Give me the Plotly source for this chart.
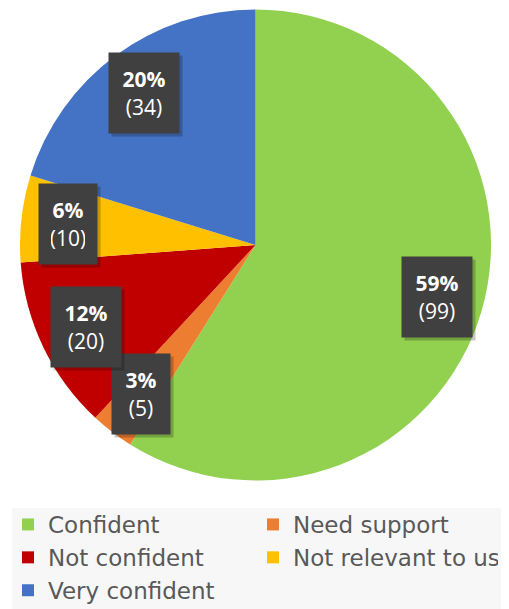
import math
import plotly.graph_objects as go

categories = ["Confident", "Need support", "Not confident", "Not relevant to us", "Very confident"]
counts = [99, 5, 20, 10, 34]
percent_labels = ["59%", "3%", "12%", "6%", "20%"]
colors = ["#92D050", "#ED7D31", "#C00000", "#FFC000", "#4472C4"]

OFF = 8  # page body margin
W, H = 509 - OFF, 609 - OFF


def fx(px):  # window px -> paper x
    return (px - OFF) / W


def fy(py):  # window px -> paper y
    return 1 - (py - OFF) / H


dom_x = [fx(20), fx(491)]
dom_y = [fy(481), fy(9)]

fig = go.Figure(go.Pie(
    labels=categories,
    values=counts,
    sort=False,
    direction="clockwise",
    rotation=0,
    marker=dict(colors=colors, line=dict(width=0)),
    textinfo="none",
    hoverinfo="label+value+percent",
    domain=dict(x=dom_x, y=dom_y),
))

# label boxes placed along each slice's mid-angle
cx_px = (20 + 491) / 2
cy_px = (9 + 481) / 2
radius_px = (491 - 20) / 2
total = sum(counts)
cum = 0
annotations = []
for lab, val, pct in zip(categories, counts, percent_labels):
    mid = (cum + val / 2) / total * 2 * math.pi
    cum += val
    r = 0.8 * radius_px
    px = cx_px + r * math.sin(mid)
    py = cy_px - r * math.cos(mid)
    bw = 46 if len(pct) == 3 else 34
    bh = 56
    annotations.append(dict(
        x=fx(px + 3), y=fy(py + 3), xref="paper", yref="paper",
        xanchor="center", yanchor="middle",
        text="&nbsp;", showarrow=False, width=bw, height=bh,
        font=dict(family="Open Sans", size=21, color="rgba(0,0,0,0)"),
        bgcolor="rgba(0,0,0,0.22)", borderpad=12,
    ))
    annotations.append(dict(
        x=fx(px), y=fy(py), xref="paper", yref="paper",
        xanchor="center", yanchor="middle",
        text=f"<b>{pct}</b><br>({val})", showarrow=False, width=bw, height=bh,
        font=dict(family="Open Sans", size=21, color="white"),
        bgcolor="#404040", borderpad=12, align="center", valign="middle",
    ))

fig.update_layout(
    width=W, height=H,
    margin=dict(l=0, r=0, t=0, b=0, autoexpand=False),
    paper_bgcolor="white",
    plot_bgcolor="white",
    annotations=annotations,
    shapes=[dict(type="rect", xref="paper", yref="paper",
                 x0=fx(12), x1=1, y0=0, y1=fy(508),
                 fillcolor="#F7F7F7", line=dict(width=0), layer="below")],
    showlegend=True,
    legend=dict(
        orientation="h",
        x=0, xanchor="left",
        y=fy(503), yanchor="top",
        font=dict(family="DejaVu Sans", size=23, color="#595959"),
        bgcolor="rgba(0,0,0,0)",
        entrywidth=200, entrywidthmode="pixels",
        traceorder="normal",
        itemclick=False,
    ),
)

fig.write_html("out.html")
